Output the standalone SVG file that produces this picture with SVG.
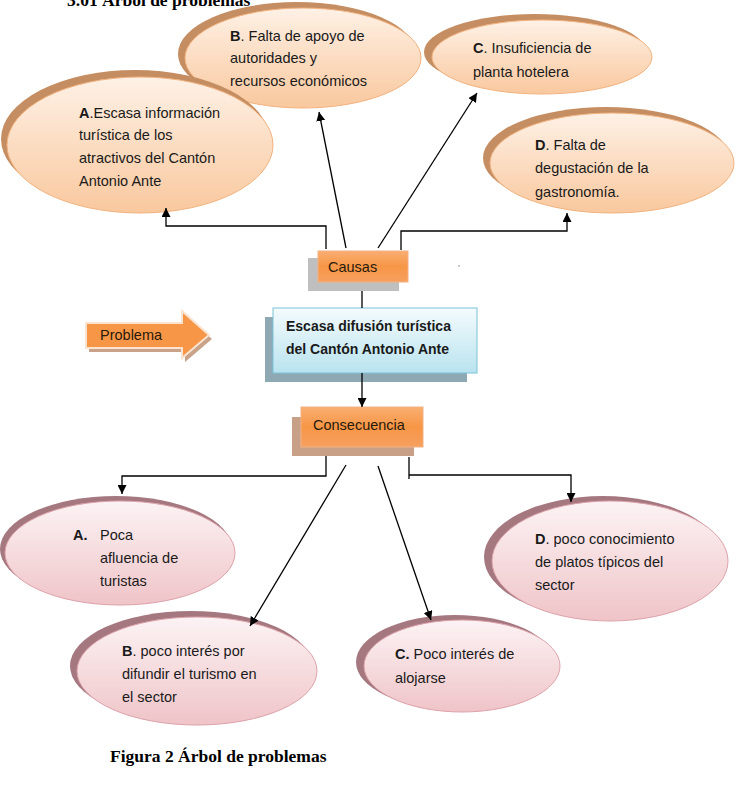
<svg xmlns="http://www.w3.org/2000/svg" width="738" height="786" viewBox="0 0 738 786">
<style>
.t{font-family:"Liberation Sans",Arial,sans-serif;font-size:14.5px;fill:#1a1a1a}
.tb{font-family:"Liberation Sans",Arial,sans-serif;font-size:14px;font-weight:bold;fill:#1a1a1a}
.b{font-weight:bold}
.cap{font-family:"Liberation Serif","Times New Roman",serif;font-size:17.5px;font-weight:bold;fill:#000}
.conn{stroke:#000;stroke-width:1.3;fill:none}
.cz{fill:url(#gCause);stroke:#F2B27E;stroke-width:1}
.cs{fill:#C58D62}
.pz{fill:url(#gCons);stroke:#DDA2AA;stroke-width:1}
.ps{fill:#A57880}
.ob{fill:url(#gOrange);stroke:#F4B183;stroke-width:1}
.ot{font-family:"Liberation Sans",Arial,sans-serif;font-size:14.5px;fill:#2a1a0a}
</style>
<defs>
<linearGradient id="gCause" x1="0" y1="0" x2="0" y2="1">
<stop offset="0" stop-color="#FEF1E6"/>
<stop offset="1" stop-color="#F9C89E"/>
</linearGradient>
<linearGradient id="gCons" x1="0" y1="0" x2="0" y2="1">
<stop offset="0" stop-color="#FCF3F4"/>
<stop offset="1" stop-color="#EFC4C8"/>
</linearGradient>
<linearGradient id="gOrange" x1="0" y1="0" x2="0" y2="1">
<stop offset="0" stop-color="#F9AE72"/>
<stop offset="0.5" stop-color="#F79646"/>
<stop offset="1" stop-color="#F6A060"/>
</linearGradient>
<linearGradient id="gBlue" x1="0" y1="0" x2="0" y2="1">
<stop offset="0" stop-color="#F4FBFD"/>
<stop offset="1" stop-color="#B9E3EF"/>
</linearGradient>
<marker id="arr" viewBox="0 0 10 10" refX="10" refY="5" markerWidth="9" markerHeight="9" markerUnits="userSpaceOnUse" orient="auto">
<path d="M0,0 L10,5 L0,10 Z" fill="#000"/>
</marker>
</defs>
<rect width="738" height="786" fill="#fff"/>
<text class="cap" x="67" y="6">3.01 Árbol de problemas</text>

<g id="causa-B">
<ellipse class="cs" cx="297" cy="54" rx="119" ry="52"/>
<ellipse class="cz" cx="303" cy="58" rx="118" ry="50"/>
<text class="t" x="230" y="41"><tspan class="b">B</tspan>. Falta de apoyo  de</text>
<text class="t" x="230" y="63">autoridades y</text>
<text class="t" x="230" y="86">recursos económicos</text>
</g>
<g id="causa-A">
<ellipse class="cs" cx="135" cy="139" rx="134" ry="69"/>
<ellipse class="cz" cx="140" cy="145" rx="133" ry="68"/>
<text class="t" x="79" y="118"><tspan class="b">A</tspan>.Escasa información</text>
<text class="t" x="79" y="140">turística de los</text>
<text class="t" x="79" y="163">atractivos del Cantón</text>
<text class="t" x="79" y="186">Antonio Ante</text>
</g>
<g id="causa-C">
<ellipse class="cs" cx="535" cy="52" rx="111" ry="38"/>
<ellipse class="cz" cx="542" cy="57" rx="110" ry="37"/>
<text class="t" x="473" y="53"><tspan class="b">C</tspan>. Insuficiencia de</text>
<text class="t" x="473" y="77">planta hotelera</text>
</g>
<g id="causa-D">
<ellipse class="cs" cx="606" cy="158" rx="123" ry="51"/>
<ellipse class="cz" cx="612" cy="163" rx="122" ry="50"/>
<text class="t" x="535" y="150"><tspan class="b">D</tspan>. Falta de</text>
<text class="t" x="535" y="173">degustación de la</text>
<text class="t" x="535" y="197">gastronomía.</text>
</g>

<g id="causas">
<rect x="308" y="258" width="91" height="33" fill="#BFBFBF"/>
<rect class="ob" x="318" y="251" width="90" height="31"/>
<text class="ot" x="328" y="272">Causas</text>
</g>
<circle cx="459" cy="266" r="0.7" fill="#666"/>

<g id="problema">
<path d="M89,327 H185 V315 L212,339 L185,362 V352 H89 Z" fill="#C9A28A"/>
<path d="M86,323 H182 V311 L209,335 L182,358 V348 H86 Z" fill="#F79646" stroke="#FBE3D0" stroke-width="2"/>
<text class="ot" x="100" y="340">Problema</text>
</g>

<g id="problema-central">
<rect x="265" y="317" width="202" height="65" fill="#8EA9B4"/>
<rect x="273" y="308" width="204" height="65" fill="url(#gBlue)" stroke="#7CC3D8" stroke-width="1"/>
<text class="tb" x="286" y="331">Escasa difusión turística</text>
<text class="tb" x="286" y="354">del Cantón Antonio Ante</text>
</g>

<g id="consecuencia">
<rect x="292" y="417" width="122" height="39" fill="#C8A088"/>
<rect class="ob" x="301" y="407" width="122" height="40"/>
<text class="ot" x="313" y="430">Consecuencia</text>
</g>

<g id="cons-A">
<ellipse class="ps" cx="116" cy="549" rx="116" ry="53"/>
<ellipse class="pz" cx="120" cy="553" rx="115" ry="52"/>
<text class="t b" x="73" y="540">A.</text>
<text class="t" x="100" y="540">Poca</text>
<text class="t" x="100" y="563">afluencia de</text>
<text class="t" x="100" y="586">turistas</text>
</g>
<g id="cons-B">
<ellipse class="ps" cx="191" cy="666" rx="121" ry="55"/>
<ellipse class="pz" cx="197" cy="671" rx="120" ry="54"/>
<text class="t" x="122" y="656"><tspan class="b">B</tspan>. poco interés por</text>
<text class="t" x="122" y="679">difundir el turismo en</text>
<text class="t" x="122" y="702">el sector</text>
</g>
<g id="cons-C">
<ellipse class="ps" cx="455" cy="662" rx="99" ry="47"/>
<ellipse class="pz" cx="462" cy="666" rx="98" ry="46"/>
<text class="t" x="395" y="659"><tspan class="b">C.</tspan> Poco interés de</text>
<text class="t" x="395" y="683">alojarse</text>
</g>
<g id="cons-D">
<ellipse class="ps" cx="603" cy="557" rx="119" ry="61"/>
<ellipse class="pz" cx="610" cy="561" rx="118" ry="60"/>
<text class="t" x="535" y="544"><tspan class="b">D</tspan>. poco conocimiento</text>
<text class="t" x="535" y="567">de platos típicos del</text>
<text class="t" x="535" y="590">sector</text>
</g>

<g id="connectors">
<polyline class="conn" points="326,249 326,226 166,226 166,208" marker-end="url(#arr)"/>
<line class="conn" x1="346" y1="248" x2="319" y2="112" marker-end="url(#arr)"/>
<line class="conn" x1="378" y1="248" x2="477" y2="93" marker-end="url(#arr)"/>
<polyline class="conn" points="401,250 401,231 567,231 567,213" marker-end="url(#arr)"/>
<line class="conn" x1="362" y1="291" x2="362" y2="308"/>
<line class="conn" x1="362" y1="373" x2="362" y2="407" marker-end="url(#arr)"/>
<polyline class="conn" points="326,456 326,476 122,476 122,494" marker-end="url(#arr)"/>
<line class="conn" x1="346" y1="465" x2="250" y2="626" marker-end="url(#arr)"/>
<line class="conn" x1="378" y1="466" x2="431" y2="620" marker-end="url(#arr)"/>
<path class="conn" d="M409,457 V479"/>
<polyline class="conn" points="409,475 571,475 571,502" marker-end="url(#arr)"/>
</g>

<text class="cap" x="110" y="762">Figura 2 Árbol de problemas</text>
</svg>
